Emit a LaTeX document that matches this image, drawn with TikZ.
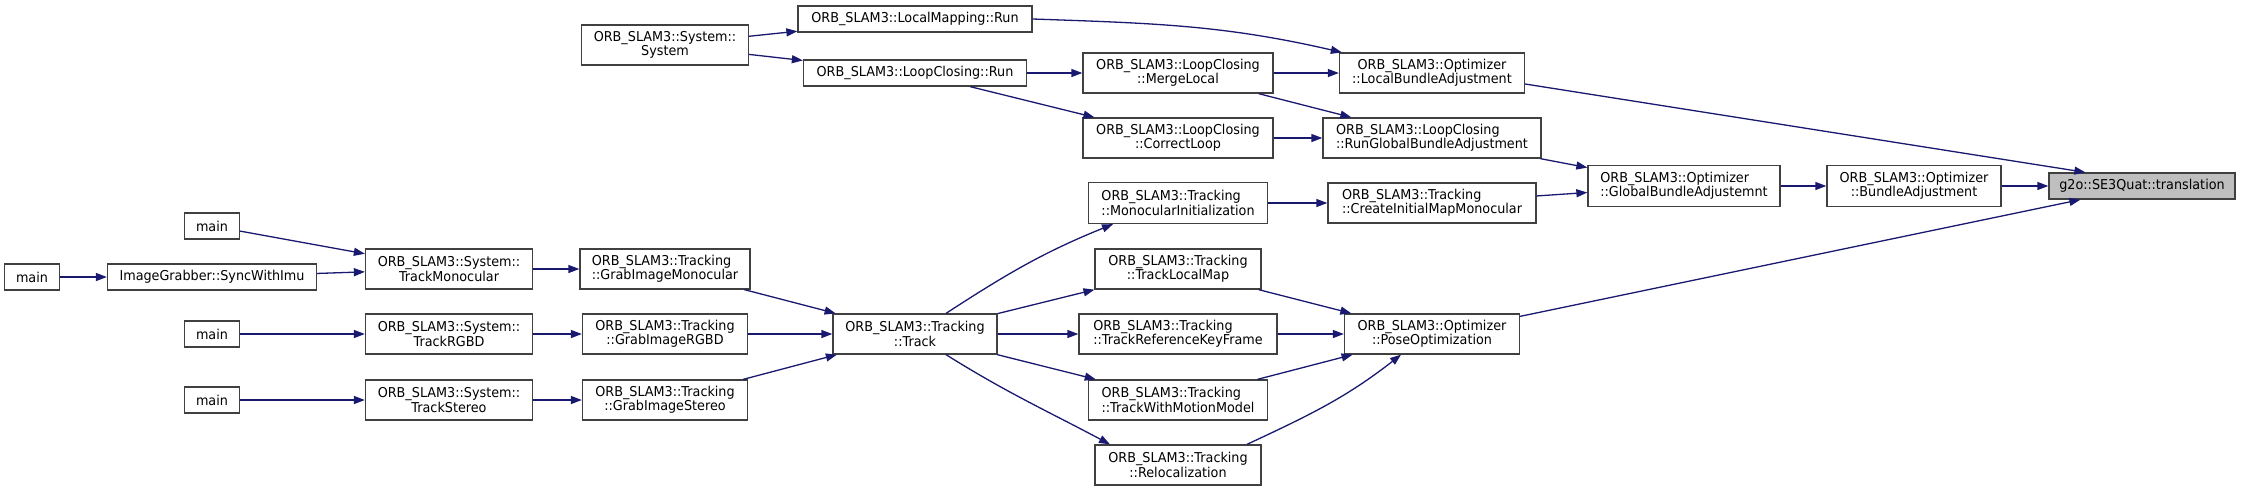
\documentclass[tikz,border=0pt]{standalone}
\usepackage{fontspec}
\setmainfont{DejaVu Sans}[FakeStretch=0.94]
\usetikzlibrary{arrows.meta}
\definecolor{edgec}{HTML}{191970}
\definecolor{boxc}{HTML}{404040}
\definecolor{rootc}{HTML}{BFBFBF}
\tikzset{
  fn/.style={draw=boxc, line width=1.3pt, fill=white, inner sep=0pt, align=center,
    font=\fontsize{13.6}{14.2}\selectfont, text=black},
  fnl/.style={fn, align=left},
  rootnode/.style={fn, fill=rootc},
  edge/.style={draw=edgec, line width=1.3pt, -{Triangle[length=11pt,width=8pt]}},
}
\begin{document}
\begin{tikzpicture}[x=1pt,y=1pt]
\fill[white] (0,0) rectangle (2244,-491);
\useasboundingbox (0,0) rectangle (2244,-491);
% rank 0
\node[fn, minimum width=55pt, minimum height=26pt] (main0) at (32,-277) {main};
% rank 1
\node[fn, minimum width=55pt, minimum height=26pt] (main1) at (212,-226) {main};
\node[fn, minimum width=209pt, minimum height=26pt] (igs) at (212,-277) {ImageGrabber::SyncWithImu};
\node[fn, minimum width=55pt, minimum height=26pt] (main2) at (212,-334) {main};
\node[fn, minimum width=55pt, minimum height=26pt] (main3) at (212,-400) {main};
% rank 2
\node[fn, minimum width=167pt, minimum height=40pt] (tmono) at (449,-269) {ORB\_SLAM3::System::\\TrackMonocular};
\node[fn, minimum width=167pt, minimum height=40pt] (trgbd) at (449,-334) {ORB\_SLAM3::System::\\TrackRGBD};
\node[fn, minimum width=167pt, minimum height=40pt] (tstereo) at (449,-400) {ORB\_SLAM3::System::\\TrackStereo};
% rank 3
\node[fn, minimum width=167pt, minimum height=40pt] (sys) at (665,-45) {ORB\_SLAM3::System::\\System};
\node[fnl, minimum width=170pt, minimum height=40pt] (gim) at (665,-269) {ORB\_SLAM3::Tracking\\::GrabImageMonocular};
\node[fn, minimum width=165pt, minimum height=40pt] (girgbd) at (665,-334) {ORB\_SLAM3::Tracking\\::GrabImageRGBD};
\node[fn, minimum width=165pt, minimum height=40pt] (gistereo) at (665,-400) {ORB\_SLAM3::Tracking\\::GrabImageStereo};
% rank 4
\node[fn, minimum width=234pt, minimum height=26pt] (lmr) at (915,-19) {ORB\_SLAM3::LocalMapping::Run};
\node[fn, minimum width=223pt, minimum height=26pt] (lcr) at (915,-73) {ORB\_SLAM3::LoopClosing::Run};
\node[fn, minimum width=164pt, minimum height=40pt] (track) at (915,-334) {ORB\_SLAM3::Tracking\\::Track};
% rank 5
\node[fn, minimum width=190pt, minimum height=40pt] (merge) at (1178,-73) {ORB\_SLAM3::LoopClosing\\::MergeLocal};
\node[fn, minimum width=190pt, minimum height=40pt] (correct) at (1178,-138) {ORB\_SLAM3::LoopClosing\\::CorrectLoop};
\node[fnl, minimum width=179pt, minimum height=41pt] (mono) at (1178,-203) {ORB\_SLAM3::Tracking\\::MonocularInitialization};
\node[fn, minimum width=166pt, minimum height=40pt] (tlm) at (1178,-269) {ORB\_SLAM3::Tracking\\::TrackLocalMap};
\node[fnl, minimum width=198pt, minimum height=40pt] (trkf) at (1178,-334) {ORB\_SLAM3::Tracking\\::TrackReferenceKeyFrame};
\node[fnl, minimum width=179pt, minimum height=40pt] (twmm) at (1178,-400) {ORB\_SLAM3::Tracking\\::TrackWithMotionModel};
\node[fn, minimum width=166pt, minimum height=40pt] (reloc) at (1178,-465) {ORB\_SLAM3::Tracking\\::Relocalization};
% rank 6
\node[fn, minimum width=185pt, minimum height=40pt] (lba) at (1432,-73) {ORB\_SLAM3::Optimizer\\::LocalBundleAdjustment};
\node[fnl, minimum width=218pt, minimum height=40pt] (rgba) at (1432,-138) {ORB\_SLAM3::LoopClosing\\::RunGlobalBundleAdjustment};
\node[fnl, minimum width=208pt, minimum height=40pt] (cimm) at (1432,-203) {ORB\_SLAM3::Tracking\\::CreateInitialMapMonocular};
\node[fn, minimum width=175pt, minimum height=40pt] (pose) at (1432,-334) {ORB\_SLAM3::Optimizer\\::PoseOptimization};
% rank 7
\node[fnl, minimum width=192pt, minimum height=41pt] (gba) at (1684,-186) {ORB\_SLAM3::Optimizer\\::GlobalBundleAdjustemnt};
% rank 8
\node[fn, minimum width=174pt, minimum height=41pt] (ba) at (1914,-186) {ORB\_SLAM3::Optimizer\\::BundleAdjustment};
% rank 9
\node[rootnode, minimum width=186pt, minimum height=26pt] (g2o) at (2142,-186) {g2o::SE3Quat::translation};
% edges
\draw[edge] (sys) -- (lmr);
\draw[edge] (sys) -- (lcr);
\draw[edge] (lmr.east) to[out=-2,in=167] ([xshift=3pt]lba.north west);
\draw[edge] (lcr) -- (merge);
\draw[edge] (lcr) -- (correct);
\draw[edge] (merge) -- (lba);
\draw[edge] (merge) -- (rgba);
\draw[edge] (correct) -- (rgba);
\draw[edge] ([yshift=-11pt]lba.east) -- ([xshift=37pt]g2o.north west);
\draw[edge] (rgba) -- (gba);
\draw[edge] (cimm) -- (gba);
\draw[edge] (gba) -- (ba);
\draw[edge] (ba) -- (g2o);
\draw[edge] ([yshift=-3pt]pose.north east) -- ([xshift=32pt]g2o.south west);
\draw[edge] (mono) -- (cimm);
\draw[edge] (main1) -- (tmono);
\draw[edge] (main0) -- (igs);
\draw[edge] (igs) -- (tmono);
\draw[edge] (tmono) -- (gim);
\draw[edge] (gim) -- (track);
\draw[edge] (main2) -- (trgbd);
\draw[edge] (trgbd) -- (girgbd);
\draw[edge] (girgbd) -- (track);
\draw[edge] (main3) -- (tstereo);
\draw[edge] (tstereo) -- (gistereo);
\draw[edge] (gistereo) -- (track);
\draw[edge] ([xshift=31pt]track.north) to[out=33,in=202] ([xshift=-65pt]mono.south);
\draw[edge] (track) -- (tlm);
\draw[edge] (track) -- (trkf);
\draw[edge] (track) -- (twmm);
\draw[edge] ([xshift=31pt]track.south) to[out=-32,in=152] ([xshift=-68pt]reloc.north);
\draw[edge] (tlm) -- (pose);
\draw[edge] (trkf) -- (pose);
\draw[edge] (twmm) -- (pose);
\draw[edge] ([xshift=69pt]reloc.north) to[out=25,in=218] ([xshift=-31pt]pose.south);
\end{tikzpicture}
\end{document}
